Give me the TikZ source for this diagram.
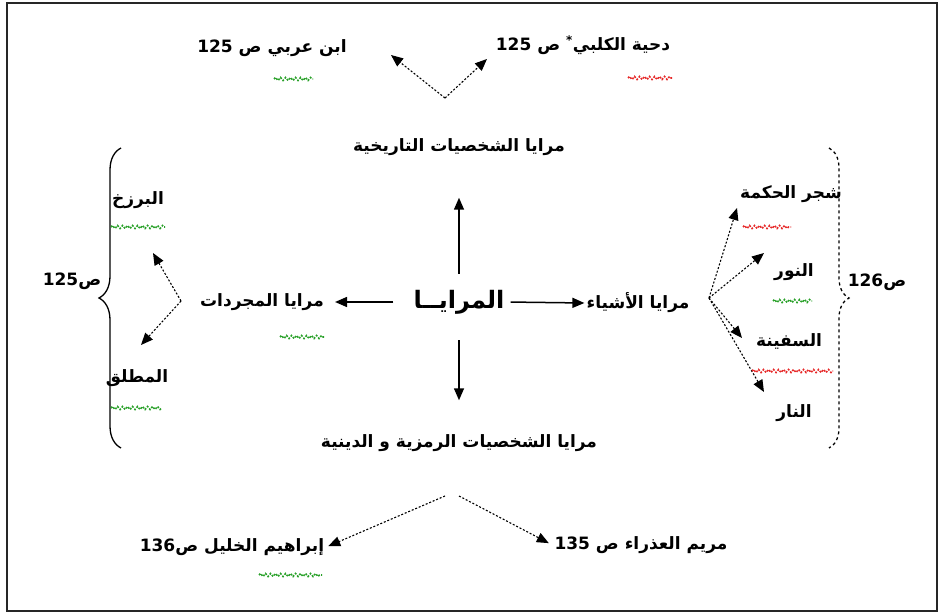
\documentclass[tikz,border=0pt]{standalone}
\usepackage{fontspec}
\usepackage{xcolor}
\usepackage{tikz}
\usetikzlibrary{arrows.meta,decorations.pathmorphing,decorations.pathreplacing}
\TeXXeTstate=1
\newfontfamily\arabicfont[Script=Arabic]{DejaVu Sans}
\newcommand{\rtl}[1]{\beginR #1\endR}
\newcommand{\pnum}[1]{\beginL #1\endL{}}
\definecolor{okgreen}{RGB}{40,160,40}
\definecolor{errred}{RGB}{230,40,40}

\begin{document}
\begin{tikzpicture}[x=1pt,y=-1pt,
	lbl/.style={font=\arabicfont\bfseries\fontsize{17}{20}\selectfont, inner sep=2pt},
	big/.style={font=\arabicfont\bfseries\fontsize{24}{28}\selectfont, inner sep=2pt},
	fork/.style={dash pattern=on 2pt off 1.8pt, line width=1.1pt, -{Triangle[length=12pt,width=10pt]}},
	solidarr/.style={line width=1.5pt, -{Triangle[length=12pt,width=10pt]}},
	wavy/.style={decorate, decoration={snake, amplitude=1.5pt, segment length=5pt}, dash pattern=on 1.8pt off 1.5pt, line width=1.6pt}]

\useasboundingbox (0,0) rectangle (943,615);
\draw[line width=1.5pt, black!85] (7,3) rectangle (937,611);

% main node and the four groups
\node[big] (mir) at (459,302) {\rtl{المرايــا}};
\node[lbl] (hist) at (459,147) {\rtl{مرايا الشخصيات التاريخية}};
\node[lbl] (sym) at (459,443) {\rtl{مرايا الشخصيات الرمزية و الدينية}};
\node[lbl] (abs) at (262,302) {\rtl{مرايا المجردات}};
\node[lbl] (things) at (638,303) {\rtl{مرايا الأشياء}};

% leaves
\node[lbl] (ibn) at (272,48) {\rtl{ابن عربي ص \pnum{125}}};
\node[lbl] (dihya) at (583,45) {\rtl{دحية الكلبي\textsuperscript{*} ص \pnum{125}}};
\node[lbl] (ibrahim) at (232,547) {\rtl{إبراهيم الخليل ص\pnum{136}}};
\node[lbl] (maryam) at (641,545) {\rtl{مريم العذراء ص \pnum{135}}};
\node[lbl] (barzakh) at (138,200) {\rtl{البرزخ}};
\node[lbl] (mutlaq) at (137,378) {\rtl{المطلق}};
\node[lbl] (tree) at (791,194) {\rtl{شجر الحكمة}};
\node[lbl] (light) at (794,272) {\rtl{النور}};
\node[lbl] (ship) at (789,341) {\rtl{السفينة}};
\node[lbl] (fire) at (794,413) {\rtl{النار}};
\node[lbl] (pleft) at (72,281) {\rtl{ص\pnum{125}}};
\node[lbl] (pright) at (877,282) {\rtl{ص\pnum{126}}};

% solid arrows out of the centre
\draw[solidarr, shorten <=14pt, shorten >=40pt] (mir) -- (hist);
\draw[solidarr, shorten <=24pt, shorten >=32pt] (mir) -- (sym);
\draw[solidarr, shorten <=18pt, shorten >=9pt] (mir.west) -- (abs.east);
\draw[solidarr, shorten <=4pt] (mir.east) -- (things.west);

% dotted forks
\coordinate (topv) at (445,98);
\coordinate (ibntip) at (391,55);
\coordinate (dihtip) at (487,59);
\draw[fork] (topv) -- (ibntip);
\draw[fork] (topv) -- (dihtip);

\coordinate (botl) at (445,496);
\coordinate (botr) at (459,496);
\draw[fork, shorten >=2pt] (botl) -- (ibrahim.east);
\draw[fork, shorten >=4pt] (botr) -- (maryam.west);

\coordinate (leftv) at (181,301);
\coordinate (barztip) at (153,253);
\coordinate (mutltip) at (141,345);
\draw[fork] (leftv) -- (barztip);
\draw[fork] (leftv) -- (mutltip);

\coordinate (rightv) at (709,298);
\coordinate (treetip) at (737,208);
\coordinate (lighttip) at (764,253);
\coordinate (shiptip) at (742,338);
\coordinate (firetip) at (764,392);
\foreach \t in {treetip,lighttip,shiptip,firetip}{
	\draw[fork] (rightv) -- (\t);
}

% braces
\draw[line width=1.3pt, decorate, decoration={brace, amplitude=22pt}] (121,448) -- (121,148);
\draw[line width=1.3pt, dashed, decorate, decoration={brace, amplitude=20pt}] (829,148) -- (829,448);

% squiggly underlines
\foreach \xa/\xb/\yy/\cc in {274/313/79/okgreen, 628/673/78/errred, 280/325/337/okgreen,
	111/165/227/okgreen, 111/162/408/okgreen, 743/791/227/errred,
	773/812/301/okgreen, 752/833/371/errred, 259/322/575/okgreen}{
	\draw[wavy, \cc] (\xa,\yy) -- (\xb,\yy);
}

\end{tikzpicture}
\end{document}
